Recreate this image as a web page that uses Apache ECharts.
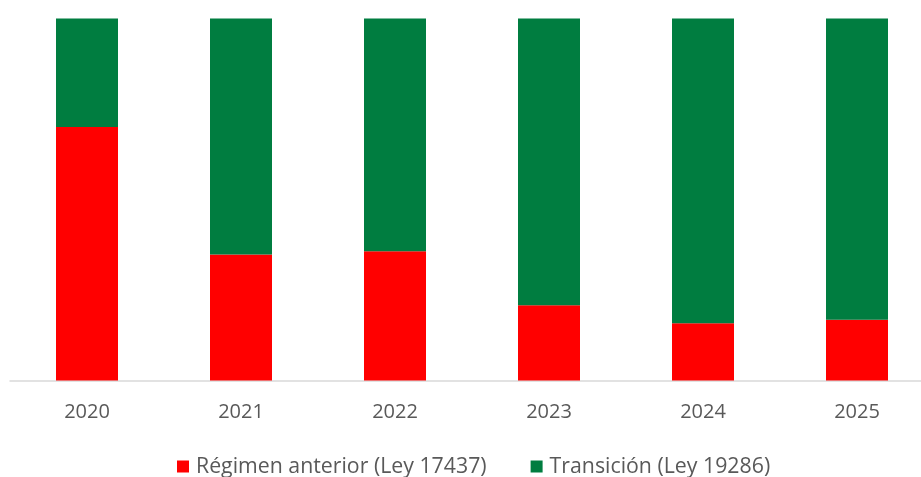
<!DOCTYPE html>
<html>
<head>
<meta charset="utf-8">
<script src="https://cdn.jsdelivr.net/npm/echarts@6/dist/echarts.min.js"></script>
<style>
  html, body { margin: 0; padding: 0; background: #fff; }
  #chart { width: 921px; height: 477px; }
</style>
</head>
<body>
<div id="chart"></div>
<script>
const years = ['2020', '2021', '2022', '2023', '2024', '2025'];
// share of each regime, in percent
const regimenAnterior = [70.0, 34.8, 35.7, 20.8, 15.8, 16.8];
const transicion = [30.0, 65.2, 64.3, 79.2, 84.2, 83.2];

const myChart = echarts.init(document.getElementById('chart'));
const font = 'Open Sans';

myChart.setOption({
  animation: false,
  grid: {
    left: 10,
    top: 18.5,
    width: 924,
    height: 362,
    outerBoundsMode: 'none'
  },
  legend: {
    data: ['Régimen anterior (Ley 17437)', 'Transición (Ley 19286)'],
    top: 451,
    left: 172,
    icon: 'rect',
    itemWidth: 12,
    itemHeight: 12,
    itemGap: 44,
    textStyle: { color: '#595959', fontSize: 21.3, fontFamily: font, padding: [0, 0, 0, 2] }
  },
  xAxis: {
    type: 'category',
    data: years,
    axisLine: { lineStyle: { color: '#D9D9D9', width: 1.5 } },
    axisTick: { show: false },
    axisLabel: { color: '#595959', fontSize: 20, fontFamily: font, margin: 22 }
  },
  yAxis: {
    type: 'value',
    min: 0,
    max: 100,
    show: false
  },
  series: [
    {
      name: 'Régimen anterior (Ley 17437)',
      type: 'bar',
      stack: 'total',
      data: regimenAnterior,
      barWidth: 62,
      itemStyle: { color: '#FF0000' }
    },
    {
      name: 'Transición (Ley 19286)',
      type: 'bar',
      stack: 'total',
      data: transicion,
      barWidth: 62,
      itemStyle: { color: '#007D40' }
    }
  ]
});
</script>
</body>
</html>
